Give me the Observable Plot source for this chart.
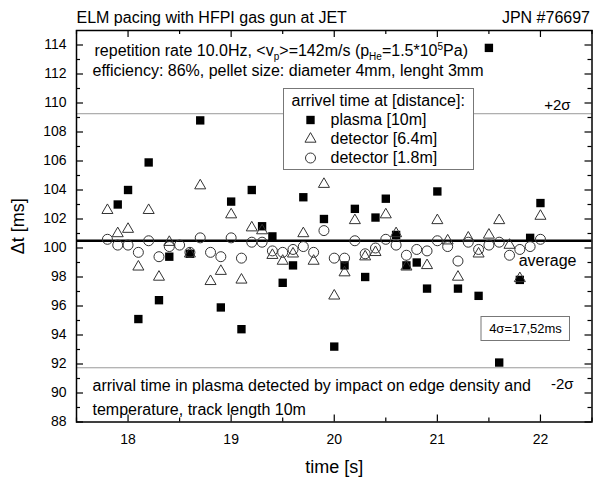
<!DOCTYPE html>
<html><head><meta charset="utf-8">
<script src="https://cdn.jsdelivr.net/npm/d3@7"></script>
<script src="https://cdn.jsdelivr.net/npm/@observablehq/plot@0.6"></script>
<style>body{margin:0;background:#fff;}</style>
</head><body><div id="chart"></div>
<script>
// ---- data ----
const times = [17.8,17.9,18.0,18.1,18.2,18.3,18.4,18.5,18.6,18.7,18.8,18.9,19.0,19.1,19.2,19.3,19.4,19.5,19.6,19.7,19.8,19.9,20.0,20.1,20.2,20.3,20.4,20.5,20.6,20.7,20.8,20.9,21.0,21.1,21.2,21.3,21.4,21.5,21.6,21.7,21.8,21.9,22.0];
const plasma10 = [null,103.0,104.0,95.1,105.9,96.4,99.4,null,99.6,108.8,null,95.9,103.2,94.4,104.0,101.5,100.8,97.6,98.8,103.5,null,102.0,93.2,98.8,102.7,98.0,102.1,103.4,100.9,98.8,99.0,97.2,103.9,null,97.2,null,96.7,113.8,92.1,null,97.8,100.7,103.1];
const detector64 = [102.6,101.0,101.3,98.7,102.6,98.0,100.4,null,99.6,104.3,97.7,98.4,102.3,97.8,101.4,101.2,99.5,99.1,99.6,101.0,99.1,104.4,96.7,98.3,101.9,99.4,99.7,102.3,101.0,98.7,null,98.8,101.9,100.5,98.0,100.7,99.6,100.9,101.9,100.2,97.9,null,102.2];
const detector18 = [100.6,100.2,100.2,99.7,100.5,99.4,100.1,100.2,99.7,100.7,99.7,99.4,100.7,99.3,100.4,100.4,99.8,99.7,99.9,100.1,99.7,101.2,99.3,99.3,100.5,99.6,100.0,100.6,100.2,99.5,99.9,99.8,100.5,100.1,99.1,100.4,99.9,100.2,100.4,99.5,99.9,100.1,100.6];
const seriesNames = ["plasma [10m]", "detector [6.4m]", "detector [1.8m]"];
const xTickValues = [18, 19, 20, 21, 22];
const xMinorTicks = [17.5, 18.5, 19.5, 20.5, 21.5, 22.5];
const yTickValues = [88, 90, 92, 94, 96, 98, 100, 102, 104, 106, 108, 110, 112, 114];
const yMinorTicks = [89, 91, 93, 95, 97, 99, 101, 103, 105, 107, 109, 111, 113];
const averageValue = 100.5;
const fourSigma = 17.52;

const titleText = "ELM pacing with HFPI gas gun at JET";
const shotText = "JPN #76697";
const infoLine1 = "repetition rate 10.0Hz, <v_{p}>=142m/s (p_{He}=1.5*10^{5}Pa)";
const infoLine2 = "efficiency: 86%, pellet size: diameter 4mm, lenght 3mm";
const legendTitle = "arrivel time at [distance]:";
const noteLine1 = "arrival time in plasma detected by impact on edge density and";
const noteLine2 = "temperature, track length 10m";
const sigmaLabel = "4σ=17,52ms";

// ---- layout ----
const W = 593, H = 483, mL = 76, mR = 1.5, mT = 30, mB = 61.5;
const fw = W - mL - mR, fh = H - mT - mB;
const font = "'Liberation Sans', Arial, sans-serif";

const rows = (vals) => times.map((t, i) => ({t, v: vals[i]})).filter(d => d.v != null);
const sq = {symbol: "square", r: 4.72, fill: "#000", stroke: "none"};
const tri = {symbol: "triangle", r: 4.1, fill: "none", stroke: "#333", strokeWidth: 1};
const cir = {symbol: "circle", r: 5, fill: "none", stroke: "#333", strokeWidth: 1};

const legendDy = [89.5, 108.5, 127.5];
const legendSyms = [sq, tri, cir];
const T = (s, o) => Plot.text([s], {text: d => d, lineAnchor: "middle", ...o});

const plot = Plot.plot({
  width: W, height: H,
  marginLeft: mL, marginRight: mR, marginTop: mT, marginBottom: mB,
  style: {fontFamily: font, background: "#fff", color: "#000"},
  x: {domain: [17.5, 22.5]},
  y: {domain: [88, 115]},
  marks: [
    Plot.ruleY([averageValue + fourSigma / 2, averageValue - fourSigma / 2], {stroke: "#999", strokeWidth: 1}),
    Plot.ruleY([averageValue], {stroke: "#000", strokeWidth: 2.5}),
    Plot.dot(rows(plasma10), {x: "t", y: "v", ...sq}),
    Plot.dot(rows(detector64), {x: "t", y: "v", ...tri}),
    Plot.dot(rows(detector18), {x: "t", y: "v", ...cir}),
    // legend box
    Plot.frame({fill: "#fff", stroke: "#777", strokeWidth: 1, insetLeft: 207, insetTop: 58, insetRight: 118.5, insetBottom: 252.5}),
    T(legendTitle, {frameAnchor: "top-left", dx: 215, dy: 70, textAnchor: "start", fontSize: 16}),
    ...seriesNames.map((name, i) => Plot.dot([name], {frameAnchor: "top-left", dx: 234, dy: legendDy[i], ...legendSyms[i]})),
    ...seriesNames.map((name, i) => T(name, {frameAnchor: "top-left", dx: 254, dy: legendDy[i], textAnchor: "start", fontSize: 16})),
    // 4 sigma box
    Plot.frame({fill: "#fff", stroke: "#777", strokeWidth: 1, insetLeft: 404.5, insetTop: 286, insetRight: 22.5, insetBottom: 81.5}),
    T(sigmaLabel, {frameAnchor: "top-right", dx: -66.5, dy: 298, textAnchor: "middle", fontSize: 13}),
    // annotations
    T(infoLine1, {frameAnchor: "top-left", dx: 18, dy: 20, textAnchor: "start", fontSize: 16}),
    T(infoLine2, {frameAnchor: "top-left", dx: 16, dy: 40, textAnchor: "start", fontSize: 16}),
    T("+2σ", {frameAnchor: "top-right", dx: -21.5, dy: 75, textAnchor: "end", fontSize: 15}),
    T("-2σ", {frameAnchor: "top-right", dx: -18.5, dy: 354, textAnchor: "end", fontSize: 15}),
    T("average", {frameAnchor: "top-right", dx: -15.5, dy: 230.5, textAnchor: "end", fontSize: 16}),
    T(noteLine1, {frameAnchor: "top-left", dx: 16, dy: 355, textAnchor: "start", fontSize: 16}),
    T(noteLine2, {frameAnchor: "top-left", dx: 16, dy: 379, textAnchor: "start", fontSize: 16}),
    // titles
    T(titleText, {frameAnchor: "top-left", dx: 0, dy: -12.5, textAnchor: "start", fontSize: 16}),
    T(shotText, {frameAnchor: "top-right", dx: -2, dy: -12.5, textAnchor: "end", fontSize: 16}),
    T("time [s]", {frameAnchor: "bottom", dy: 45, textAnchor: "middle", fontSize: 18}),
    T("Δt [ms]", {frameAnchor: "left", dx: -58, rotate: -90, textAnchor: "middle", fontSize: 18}),
    // axes labels
    Plot.axisX({ticks: xTickValues, tickFormat: d3.format("d"), tickSize: 0, tickPadding: 12, fontSize: 14, label: null}),
    Plot.axisY({ticks: yTickValues, tickFormat: d3.format("d"), tickSize: 0, tickPadding: 10, fontSize: 14, label: null}),
    // inward ticks on all four sides
    Plot.tickX(xTickValues, {x: d => d, insetTop: fh - 7, stroke: "#000", strokeWidth: 1.2}),
    Plot.tickX(xTickValues, {x: d => d, insetBottom: fh - 7, stroke: "#000", strokeWidth: 1.2}),
    Plot.tickX(xMinorTicks, {x: d => d, insetTop: fh - 4, stroke: "#000", strokeWidth: 1.2}),
    Plot.tickX(xMinorTicks, {x: d => d, insetBottom: fh - 4, stroke: "#000", strokeWidth: 1.2}),
    Plot.tickY(yTickValues, {y: d => d, insetRight: fw - 7, stroke: "#000", strokeWidth: 1.2}),
    Plot.tickY(yTickValues, {y: d => d, insetLeft: fw - 7, stroke: "#000", strokeWidth: 1.2}),
    Plot.tickY(yMinorTicks, {y: d => d, insetRight: fw - 4, stroke: "#000", strokeWidth: 1.2}),
    Plot.tickY(yMinorTicks, {y: d => d, insetLeft: fw - 4, stroke: "#000", strokeWidth: 1.2}),
    Plot.frame({stroke: "#000", strokeWidth: 1.5})
  ]
});

// sub/superscript markup: _{..} subscript, ^{..} superscript
d3.select(plot).selectAll("text").each(function () {
  const s = this.textContent;
  if (!/[_^]\{/.test(s)) return;
  const parts = s.split(/([_^]\{[^}]*\})/).filter(p => p.length);
  const el = d3.select(this);
  el.text(null);
  let shift = 0;
  for (const p of parts) {
    const m = p.match(/^([_^])\{([^}]*)\}$/);
    if (m) {
      const off = m[1] === "_" ? 4 : -6;
      el.append("tspan").attr("dy", off - shift).attr("font-size", 10).text(m[2]);
      shift = off;
    } else {
      el.append("tspan").attr("dy", -shift).text(p);
      shift = 0;
    }
  }
});

document.getElementById("chart").appendChild(plot);
</script>
</body></html>
